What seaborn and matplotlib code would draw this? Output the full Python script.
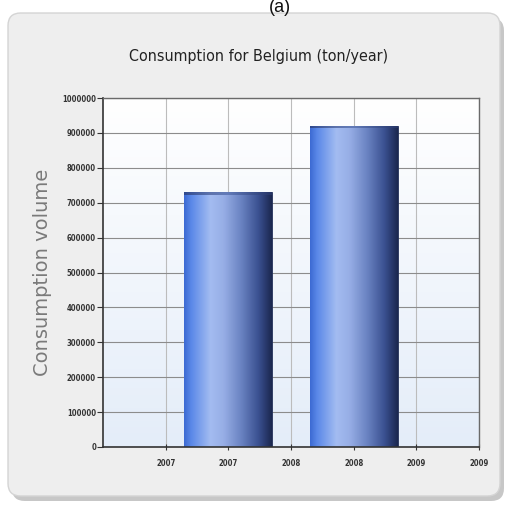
import numpy as np
import pandas as pd
import matplotlib
matplotlib.use("Agg")
import matplotlib.pyplot as plt
from matplotlib.patches import FancyBboxPatch
from matplotlib.colors import LinearSegmentedColormap
import seaborn as sns

# Consumption data (ton/year)
bar_x = [2, 4]
consumption = [730000, 920000]

xtick_values = [1, 2, 3, 4, 5, 6]
xtick_labels = ["2007", "2007", "2008", "2008", "2009", "2009"]
ytick_values = [0, 100000, 200000, 300000, 400000, 500000,
                600000, 700000, 800000, 900000, 1000000]

title = "Consumption for Belgium (ton/year)"
ylabel = "Consumption volume"
panel_tag = "(a)"

sns.set_theme(style="white")
plt.rcParams["font.family"] = ["DejaVu Sans"]

W, H = 509, 508
fig = plt.figure(figsize=(W / 100, H / 100), dpi=100, facecolor="white")


def fx(px):
    return px / W


def fy(py):
    return 1 - py / H


# Rounded panel with a soft drop shadow, kept behind the axes
shadow = FancyBboxPatch((fx(12), fy(501)), fx(492), fy(18) - fy(501),
                        boxstyle="round,pad=0,rounding_size=0.025",
                        transform=fig.transFigure, facecolor="#9a9a9a",
                        edgecolor="none", alpha=0.55, zorder=-3)
fig.patches.append(shadow)
panel = FancyBboxPatch((fx(8), fy(496)), fx(492), fy(13) - fy(496),
                       boxstyle="round,pad=0,rounding_size=0.025",
                       transform=fig.transFigure, facecolor="#eeeeee",
                       edgecolor="#d4d4d4", linewidth=1.0, zorder=-2)
fig.patches.append(panel)

cond = ["DejaVu Sans"]
fig.text(fx(280), fy(7), panel_tag, ha="center", va="center",
         fontsize=13, family=["Liberation Sans", "DejaVu Sans"], color="#111111")
fig.text(fx(259), fy(56), title, ha="center", va="center",
         fontsize=11.5, family=cond, stretch="condensed", color="#222222")

ax = fig.add_axes([fx(103), fy(447), fx(479) - fx(103), fy(98) - fy(447)])

df = pd.DataFrame({"x": bar_x, "value": consumption})
sns.barplot(data=df, x="x", y="value", native_scale=True, width=0.7,
            color="#6f8fd8", edgecolor="#1c2850", linewidth=0.6,
            ax=ax, zorder=2)

ax.set_xlim(0, 6)
ax.set_ylim(0, 1000000)

# Plot-area background: white fading to a pale blue
bg = np.linspace(0, 1, 256).reshape(-1, 1)
bg_cmap = LinearSegmentedColormap.from_list("bg", ["#e4edf9", "#ffffff"])
ax.imshow(bg, cmap=bg_cmap, extent=[0, 1, 0, 1], transform=ax.transAxes,
          aspect="auto", origin="lower", zorder=0)

# Cylinder-like shading across each bar
bar_cmap = LinearSegmentedColormap.from_list(
    "bar", [(0.0, "#3c6ad2"), (0.08, "#5a88e8"), (0.3, "#a3bcf1"),
            (0.45, "#97aee6"), (0.65, "#6a83c2"), (0.85, "#3a5090"),
            (1.0, "#1b274f")])
cap_cmap = LinearSegmentedColormap.from_list(
    "cap", [(0, "#2a3a6e"), (0.5, "#4f68a8"), (1, "#2a3a6e")])
shade = np.linspace(0, 1, 256).reshape(1, -1)
for patch in list(ax.patches):
    x0, y0 = patch.get_x(), patch.get_y()
    w, h = patch.get_width(), patch.get_height()
    im = ax.imshow(shade, cmap=bar_cmap, extent=[x0, x0 + w, y0, y0 + h],
                   aspect="auto", zorder=2.1)
    im.set_clip_path(patch)
    cap = ax.imshow(shade, cmap=cap_cmap,
                    extent=[x0, x0 + w, y0 + h - 7000, y0 + h],
                    aspect="auto", zorder=2.2, alpha=0.7)
    cap.set_clip_path(patch)

ax.set_xlim(0, 6)
ax.set_ylim(0, 1000000)

ax.set_xticks(xtick_values)
ax.set_xticklabels(xtick_labels)
ax.set_yticks(ytick_values)
ax.set_yticklabels([str(v) for v in ytick_values])

for lab in ax.get_xticklabels() + ax.get_yticklabels():
    lab.set_fontfamily(cond)
    lab.set_fontstretch("condensed")
    lab.set_fontsize(5.5)
    lab.set_fontweight("bold")
    lab.set_color("#333333")

ax.tick_params(axis="y", direction="out", length=4, width=0.8,
               color="#333333", pad=1, left=True)
ax.tick_params(axis="x", direction="inout", length=5, width=0.8,
               color="#333333", pad=6, bottom=True)

ax.set_axisbelow(True)
ax.yaxis.grid(True, color="#8c8c8c", linewidth=0.8, zorder=1)
ax.xaxis.grid(True, color="#bcbcbc", linewidth=0.8, zorder=1)

for side in ["left", "bottom"]:
    ax.spines[side].set_color("#333333")
    ax.spines[side].set_linewidth(1.2)
for side in ["top", "right"]:
    ax.spines[side].set_color("#6a6a6a")
    ax.spines[side].set_linewidth(1.0)

ax.set_xlabel("")
ax.set_ylabel(ylabel, fontsize=14, color="#7a7a7a",
              family=["DejaVu Sans"])
ax.yaxis.set_label_coords(-0.136, 0.5)

fig.savefig("out.png", dpi=100, facecolor="white")
